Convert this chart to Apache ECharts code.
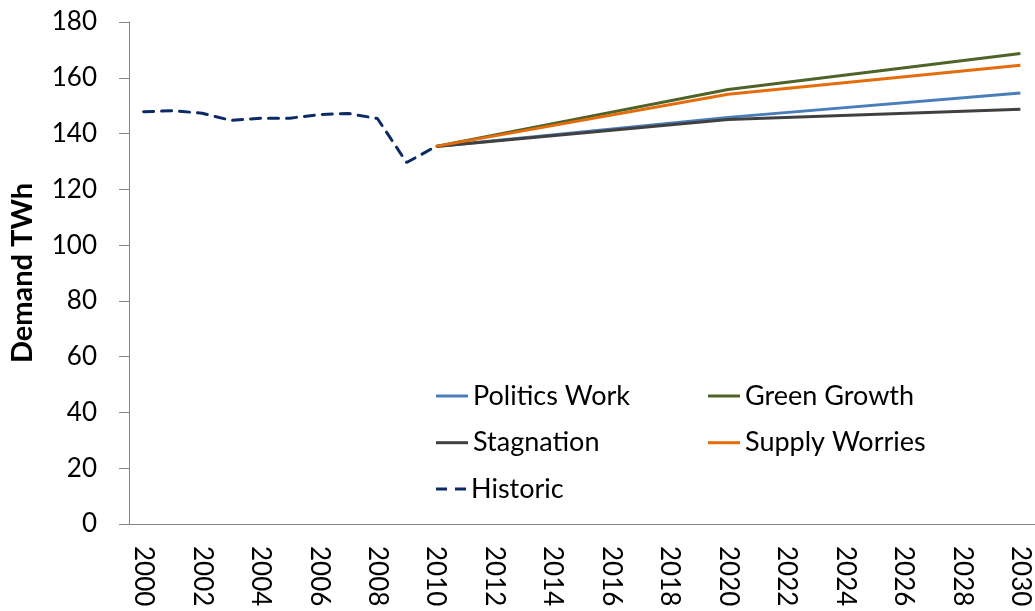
<!DOCTYPE html>
<html>
<head>
<meta charset="utf-8">
<script src="https://cdn.jsdelivr.net/npm/echarts@6/dist/echarts.min.js"></script>
<style>
html,body{margin:0;padding:0;background:#fff;}
#chart{width:1035px;height:611px;}
</style>
</head>
<body>
<div id="chart"></div>
<script>
var years = [];
for (var y = 2000; y <= 2030; y++) years.push(String(y));

var historic = [147.8, 148.2, 147.3, 144.7, 145.5, 145.5, 146.8, 147.2, 145.4, 129.6, 135.4,
  null, null, null, null, null, null, null, null, null, null,
  null, null, null, null, null, null, null, null, null, null];
// scenario values known at 2010, 2020, 2030 (straight segments in between)
var politicsWork = [null,null,null,null,null,null,null,null,null,null,135.4,
  null,null,null,null,null,null,null,null,null,145.8,
  null,null,null,null,null,null,null,null,null,154.5];
var greenGrowth = [null,null,null,null,null,null,null,null,null,null,135.4,
  null,null,null,null,null,null,null,null,null,155.8,
  null,null,null,null,null,null,null,null,null,168.7];
var stagnation = [null,null,null,null,null,null,null,null,null,null,135.4,
  null,null,null,null,null,null,null,null,null,145.0,
  null,null,null,null,null,null,null,null,null,148.7];
var supplyWorries = [null,null,null,null,null,null,null,null,null,null,135.4,
  null,null,null,null,null,null,null,null,null,154.1,
  null,null,null,null,null,null,null,null,null,164.5];

var FONT = 'Lato';
var chart = echarts.init(document.getElementById('chart'));

function scen(name, data, color) {
  return {
    name: name, type: 'line', data: data, connectNulls: true,
    symbol: 'none', lineStyle: {color: color, width: 3}, itemStyle: {color: color},
    animation: false
  };
}

var SOLID = 'path://M0,6 L32,6 L32,9 L0,9 Z';
var DASHED = 'path://M0,6 L11,6 L11,9 L0,9 Z M19,6 L30,6 L30,9 L19,9 Z';

var legendCommon = {
  orient: 'vertical', itemWidth: 32, itemHeight: 14, itemGap: 16.7, padding: 0,
  icon: SOLID,
  textStyle: {fontFamily: FONT, fontSize: 27, color: '#000', lineHeight: 30}
};

chart.setOption({
  animation: false,
  grid: {left: 127, right: 0, top: 22, bottom: 87},
  legend: [
    Object.assign({}, legendCommon, {left: 436, top: 381, data: ['Politics Work', 'Stagnation']}),
    Object.assign({}, legendCommon, {left: 436, top: 474, itemWidth: 30, data: [{name: 'Historic', icon: DASHED}]}),
    Object.assign({}, legendCommon, {left: 708, top: 381, data: ['Green Growth', 'Supply Worries']})
  ],
  xAxis: {
    type: 'category', data: years, boundaryGap: true,
    axisLine: {lineStyle: {color: '#868686', width: 1}},
    axisTick: {interval: 0, length: 9, lineStyle: {color: '#868686'}},
    axisLabel: {interval: 1, rotate: -90, margin: 22, fontFamily: FONT, fontSize: 26, color: '#000'}
  },
  yAxis: {
    type: 'value', min: 0, max: 180, interval: 20,
    name: 'Demand TWh', nameLocation: 'middle', nameGap: 92, nameRotate: 90,
    nameTextStyle: {fontFamily: FONT, fontSize: 29, fontWeight: 'bold', color: '#000'},
    axisLine: {show: true, lineStyle: {color: '#868686', width: 1}},
    axisTick: {show: true, length: 10, lineStyle: {color: '#868686'}},
    splitLine: {show: false},
    axisLabel: {margin: 32, fontFamily: FONT, fontSize: 26, color: '#000'}
  },
  series: [
    scen('Politics Work', politicsWork, '#4a7ebb'),
    scen('Green Growth', greenGrowth, '#4f6228'),
    scen('Stagnation', stagnation, '#404040'),
    scen('Supply Worries', supplyWorries, '#e46c0a'),
    {
      name: 'Historic', type: 'line', data: historic, symbol: 'none',
      lineStyle: {color: '#0c2a66', width: 3, type: [10, 8], cap: 'round'},
      itemStyle: {color: '#0c2a66'}
    }
  ]
});
</script>
</body>
</html>
